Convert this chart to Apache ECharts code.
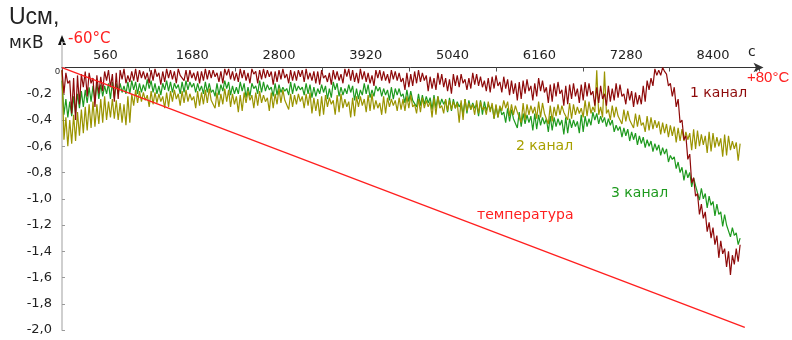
<!DOCTYPE html>
<html><head><meta charset="utf-8">
<script src="https://cdn.jsdelivr.net/npm/echarts@6/dist/echarts.min.js"></script>
<style>html,body{margin:0;padding:0;background:#fff}#c{width:792px;height:340px}</style>
</head><body><div id="c"></div>
<script>
// sampling step of the recorded channels, seconds
const SAMPLE_STEP = 25;
// x-axis tick labels (seconds)
const xLabels = [560, 1680, 2800, 3920, 5040, 6160, 7280, 8400];
// channel 1 (dark red), mV
const ch1 = [
-0.02,-0.20,-0.04,-0.12,-0.10,-0.35,-0.08,-0.40,-0.06,-0.28,-0.05,-0.15,-0.03,-0.22,-0.04,-0.12,-0.08,-0.30,-0.06,-0.20,-0.07,-0.18,-0.03,-0.10,-0.02,-0.15,-0.05,-0.26,-0.04,-0.24,-0.02,-0.09,-0.01,-0.12,-0.06,-0.11,
-0.03,-0.10,-0.01,-0.11,-0.02,-0.08,-0.03,-0.09,-0.04,-0.12,-0.02,-0.10,-0.01,-0.07,-0.04,-0.13,-0.03,-0.11,-0.01,-0.08,-0.02,-0.09,-0.03,-0.12,-0.01,-0.06,-0.05,-0.10,-0.02,-0.11,-0.02,-0.08,-0.04,-0.10,-0.03,-0.12,
-0.03,-0.10,-0.01,-0.09,-0.02,-0.08,-0.02,-0.07,-0.04,-0.11,-0.03,-0.12,-0.01,-0.06,-0.01,-0.09,-0.03,-0.10,-0.04,-0.11,-0.01,-0.08,-0.02,-0.10,-0.04,-0.12,-0.01,-0.05,-0.03,-0.12,-0.02,-0.09,-0.01,-0.08,-0.02,-0.07,-0.03,-0.13,-0.03,-0.11,-0.02,-0.09,-0.01,-0.08,-0.05,-0.12,-0.02,-0.10,-0.03,-0.10,-0.02,-0.07,
-0.02,-0.11,-0.01,-0.09,-0.04,-0.10,-0.03,-0.12,-0.03,-0.13,-0.02,-0.08,-0.06,-0.11,-0.04,-0.13,-0.02,-0.09,-0.03,-0.10,-0.05,-0.12,-0.01,-0.07,-0.01,-0.10,-0.02,-0.11,-0.04,-0.12,-0.01,-0.09,-0.03,-0.11,-0.04,-0.12,-0.06,-0.14,-0.02,-0.08,-0.02,-0.10,-0.03,-0.10,-0.05,-0.12,-0.02,-0.09,-0.03,-0.10,-0.04,-0.11,
-0.08,-0.17,-0.04,-0.15,-0.05,-0.14,-0.03,-0.12,-0.02,-0.11,-0.04,-0.10,-0.06,-0.18,-0.07,-0.16,-0.08,-0.17,-0.04,-0.13,-0.05,-0.15,-0.08,-0.18,-0.09,-0.20,-0.05,-0.14,-0.06,-0.15,-0.05,-0.12,-0.09,-0.17,-0.08,-0.16,-0.04,-0.13,-0.05,-0.14,-0.07,-0.15,-0.10,-0.18,-0.08,-0.19,-0.07,-0.16,-0.06,-0.14,-0.11,-0.19,
-0.07,-0.16,-0.09,-0.21,-0.10,-0.20,-0.12,-0.25,-0.11,-0.24,-0.10,-0.20,-0.09,-0.18,-0.14,-0.25,-0.12,-0.22,-0.08,-0.18,-0.10,-0.19,-0.15,-0.27,-0.13,-0.26,-0.12,-0.22,-0.11,-0.20,-0.17,-0.29,-0.14,-0.28,-0.13,-0.24,-0.12,-0.22,-0.16,-0.27,-0.13,-0.25,-0.11,-0.22,-0.12,-0.21,-0.18,-0.29,-0.15,-0.27,-0.14,-0.24,
-0.20,-0.29,-0.14,-0.26,-0.16,-0.25,-0.12,-0.23,-0.13,-0.22,-0.20,-0.28,-0.16,-0.25,-0.18,-0.30,-0.19,-0.28,-0.21,-0.28,-0.14,-0.26,
-0.10,-0.17,-0.08,-0.14,-0.01,-0.06,-0.02,-0.06,0.0,-0.03,-0.05,-0.14,
-0.12,-0.22,-0.15,-0.30,-0.24,-0.42,-0.40,-0.55,-0.52,-0.70,-0.66,-0.88,-0.84,-0.98,-0.96,-1.12,-1.04,-1.15,-1.10,-1.25,-1.18,-1.30,-1.22,-1.35,-1.28,-1.45,-1.32,-1.42,-1.38,-1.52,-1.40,-1.58,-1.43,-1.50,-1.38,-1.48,-1.35
];
// channel 2 (olive), mV
const ch2 = [
-0.02,-0.55,-0.38,-0.60,-0.40,-0.58,-0.36,-0.56,-0.34,-0.52,-0.32,-0.50,-0.30,-0.48,-0.28,-0.46,-0.26,-0.45,-0.28,-0.43,-0.24,-0.42,-0.22,-0.40,-0.26,-0.38,-0.24,-0.39,-0.25,-0.40,-0.27,-0.42,-0.28,-0.44,-0.22,-0.42,
-0.20,-0.29,-0.17,-0.27,-0.18,-0.26,-0.19,-0.25,-0.21,-0.30,-0.18,-0.28,-0.19,-0.27,-0.20,-0.26,-0.22,-0.31,-0.19,-0.30,-0.18,-0.26,-0.17,-0.24,-0.20,-0.29,-0.18,-0.27,-0.17,-0.26,-0.20,-0.25,-0.22,-0.31,-0.18,-0.29,
-0.19,-0.28,-0.17,-0.27,-0.16,-0.25,-0.24,-0.31,-0.19,-0.30,-0.20,-0.28,-0.16,-0.26,-0.17,-0.30,-0.20,-0.28,-0.22,-0.34,-0.21,-0.33,-0.19,-0.27,-0.18,-0.25,-0.21,-0.31,-0.19,-0.29,-0.18,-0.27,-0.21,-0.26,-0.23,-0.33,-0.19,-0.31,-0.20,-0.28,-0.16,-0.27,-0.17,-0.25,-0.24,-0.32,-0.20,-0.30,-0.21,-0.28,-0.20,-0.26,
-0.22,-0.31,-0.20,-0.29,-0.19,-0.35,-0.23,-0.33,-0.24,-0.37,-0.22,-0.36,-0.21,-0.30,-0.23,-0.28,-0.25,-0.36,-0.21,-0.34,-0.20,-0.31,-0.24,-0.30,-0.26,-0.38,-0.23,-0.37,-0.22,-0.30,-0.22,-0.29,-0.24,-0.34,-0.21,-0.33,-0.20,-0.32,-0.25,-0.31,-0.27,-0.36,-0.22,-0.35,-0.23,-0.30,-0.24,-0.29,-0.25,-0.33,-0.23,-0.32,
-0.24,-0.33,-0.22,-0.31,-0.21,-0.30,-0.28,-0.35,-0.24,-0.34,-0.23,-0.31,-0.25,-0.30,-0.26,-0.38,-0.23,-0.36,-0.22,-0.31,-0.29,-0.35,-0.24,-0.33,-0.25,-0.32,-0.26,-0.31,-0.27,-0.42,-0.25,-0.40,-0.24,-0.33,-0.27,-0.32,-0.28,-0.36,-0.25,-0.35,-0.26,-0.32,-0.30,-0.36,-0.26,-0.34,-0.27,-0.39,-0.28,-0.38,-0.29,-0.33,
-0.25,-0.31,-0.26,-0.37,-0.28,-0.36,-0.29,-0.34,-0.33,-0.42,-0.27,-0.40,-0.28,-0.36,-0.29,-0.35,-0.30,-0.39,-0.26,-0.38,-0.27,-0.35,-0.34,-0.43,-0.29,-0.41,-0.30,-0.37,-0.28,-0.36,-0.29,-0.34,-0.33,-0.40,-0.27,-0.39,-0.28,-0.36,-0.30,-0.35,-0.31,-0.38,-0.25,-0.37,-0.26,-0.35,-0.30,-0.34,-0.02,-0.36,-0.30,-0.38,
-0.03,-0.35,-0.32,-0.40,-0.29,-0.38,-0.30,-0.37,-0.36,-0.43,-0.32,-0.41,-0.33,-0.40,-0.39,-0.46,-0.35,-0.45,-0.36,-0.44,-0.42,-0.49,-0.37,-0.48,-0.38,-0.47,-0.40,-0.46,-0.41,-0.51,-0.42,-0.50,-0.43,-0.53,-0.44,-0.52,
-0.45,-0.57,-0.46,-0.56,-0.47,-0.56,-0.49,-0.55,-0.50,-0.63,-0.47,-0.62,-0.48,-0.60,-0.51,-0.59,-0.52,-0.65,-0.49,-0.64,-0.50,-0.61,-0.53,-0.60,-0.54,-0.68,-0.51,-0.67,-0.52,-0.63,-0.56,-0.62,-0.57,-0.71,-0.58
];
// channel 3 (green), mV
const ch3 = [
-0.10,-0.36,-0.24,-0.38,-0.26,-0.37,-0.22,-0.35,-0.20,-0.31,-0.18,-0.30,-0.17,-0.27,-0.15,-0.26,-0.14,-0.25,-0.12,-0.24,-0.13,-0.22,-0.14,-0.20,-0.12,-0.24,-0.11,-0.23,-0.12,-0.20,-0.12,-0.19,-0.14,-0.20,-0.11,-0.20,
-0.10,-0.17,-0.11,-0.20,-0.12,-0.19,-0.13,-0.18,-0.09,-0.16,-0.10,-0.19,-0.12,-0.20,-0.14,-0.21,-0.12,-0.17,-0.10,-0.18,-0.11,-0.19,-0.12,-0.16,-0.13,-0.20,-0.11,-0.19,-0.10,-0.17,-0.11,-0.15,-0.12,-0.19,-0.12,-0.18,
-0.14,-0.20,-0.11,-0.19,-0.12,-0.19,-0.17,-0.22,-0.12,-0.21,-0.13,-0.18,-0.10,-0.16,-0.11,-0.21,-0.14,-0.20,-0.15,-0.20,-0.11,-0.18,-0.12,-0.23,-0.15,-0.22,-0.12,-0.16,-0.14,-0.20,-0.10,-0.19,-0.11,-0.18,-0.13,-0.17,-0.15,-0.22,-0.12,-0.21,-0.13,-0.19,-0.15,-0.18,-0.16,-0.21,-0.11,-0.20,-0.12,-0.18,-0.14,-0.17,
-0.15,-0.21,-0.12,-0.20,-0.13,-0.23,-0.15,-0.22,-0.16,-0.20,-0.13,-0.19,-0.14,-0.24,-0.16,-0.23,-0.11,-0.17,-0.12,-0.22,-0.15,-0.21,-0.16,-0.20,-0.13,-0.19,-0.14,-0.25,-0.16,-0.24,-0.17,-0.21,-0.12,-0.20,-0.13,-0.23,-0.17,-0.22,-0.14,-0.18,-0.15,-0.22,-0.16,-0.21,-0.17,-0.25,-0.15,-0.24,-0.16,-0.21,-0.16,-0.22,
-0.20,-0.27,-0.17,-0.26,-0.18,-0.25,-0.24,-0.30,-0.20,-0.29,-0.21,-0.28,-0.22,-0.27,-0.23,-0.32,-0.21,-0.31,-0.22,-0.29,-0.24,-0.28,-0.25,-0.34,-0.23,-0.33,-0.24,-0.31,-0.26,-0.30,-0.27,-0.36,-0.24,-0.35,-0.25,-0.32,-0.27,-0.31,-0.28,-0.37,-0.25,-0.36,-0.26,-0.33,-0.28,-0.32,-0.29,-0.39,-0.29,-0.38,-0.30,-0.36,
-0.34,-0.42,-0.31,-0.41,-0.32,-0.39,-0.38,-0.46,-0.34,-0.45,-0.35,-0.43,-0.36,-0.42,-0.37,-0.48,-0.35,-0.47,-0.36,-0.44,-0.38,-0.43,-0.39,-0.49,-0.37,-0.48,-0.38,-0.45,-0.39,-0.44,-0.40,-0.51,-0.38,-0.50,-0.39,-0.46,-0.40,-0.45,-0.41,-0.50,-0.36,-0.49,-0.37,-0.45,-0.39,-0.44,-0.34,-0.40,-0.35,-0.43,-0.37,-0.42,
-0.38,-0.45,-0.39,-0.44,-0.40,-0.49,-0.44,-0.48,-0.45,-0.53,-0.46,-0.52,-0.47,-0.56,-0.49,-0.55,-0.50,-0.59,-0.52,-0.58,-0.53,-0.61,-0.55,-0.60,-0.56,-0.64,-0.58,-0.63,-0.59,-0.67,-0.61,-0.66,-0.62,-0.72,-0.67,-0.70,
-0.68,-0.77,-0.72,-0.80,-0.76,-0.86,-0.78,-0.84,-0.80,-0.91,-0.84,-0.90,-0.89,-1.01,-0.92,-1.00,-0.96,-1.07,-0.98,-1.05,-1.02,-1.13,-1.04,-1.12,-1.10,-1.21,-1.12,-1.20,-1.19,-1.29,-1.22,-1.28,-1.26,-1.35,-1.30
];
// temperature ramp (-60°C .. +80°C) drawn on the same scale
const tempTime = [0, 8810];
const tempVal = [0, -1.98];

const FONT = '"DejaVu Sans", Verdana, sans-serif';
const FONT2 = 'Arial, "Liberation Sans", sans-serif';
const toXY = arr => arr.map((v, i) => [i * SAMPLE_STEP, v]);

const Y_MIN = -2, Y_MAX = 0.19;
const GRID = {left: 62, right: 32.5, top: 42.6, bottom: 10};
const gridH = 340 - GRID.top - GRID.bottom;
const zeroOffset = -gridH * Y_MAX / (Y_MAX - Y_MIN);

const chart = echarts.init(document.getElementById('c'), null, {renderer: 'canvas'});
chart.setOption({
  animation: false,
  backgroundColor: '#fff',
  grid: GRID,
  xAxis: [{
    type: 'value', position: 'top', min: 0, max: 9000, interval: 560, offset: zeroOffset,
    axisLine: {onZero: false, lineStyle: {color: '#333', width: 1}, symbol: ['none', 'arrow'], symbolSize: [7, 10], symbolOffset: [0, 4]},
    axisTick: {show: false},
    splitLine: {show: false},
    axisLabel: {margin: 5, color: '#222', fontSize: 13, fontFamily: FONT,
      formatter: v => xLabels.indexOf(Math.round(v)) >= 0 ? String(Math.round(v)) : ''}
  }, {
    type: 'value', position: 'top', min: 0, max: 9000, interval: 1120, offset: zeroOffset,
    axisLine: {show: false, onZero: false},
    axisTick: {show: true, inside: true, length: 4, lineStyle: {color: '#555'}},
    axisLabel: {show: false}, splitLine: {show: false}
  }],
  yAxis: {
    type: 'value', min: Y_MIN, max: Y_MAX, interval: 0.2,
    axisLine: {onZero: false, lineStyle: {color: '#cfcfcf', width: 2}},
    axisTick: {show: true, inside: true, length: 3, lineStyle: {color: '#999'}},
    splitLine: {show: false},
    axisLabel: {margin: 2, color: '#222', fontSize: 13, fontFamily: FONT,
      formatter: v => {
        if (v > 0.001) return '';
        if (Math.abs(v) < 0.001) return '{s|0}';
        return '{n|' + v.toFixed(1).replace('.', ',') + '}';
      },
      rich: {
        s: {fontSize: 9, color: '#222', fontFamily: FONT2, padding: [8, 0, 0, 0]},
        n: {fontSize: 13, color: '#222', fontFamily: FONT, padding: [0, 8, 0, 0]}
      }
    }
  },
  series: [
    {type: 'line', name: '3 канал', data: toXY(ch3), showSymbol: false, lineStyle: {color: '#1e9a1e', width: 1.2}, z: 2},
    {type: 'line', name: '2 канал', data: toXY(ch2), showSymbol: false, lineStyle: {color: '#9a9400', width: 1.2}, z: 3},
    {type: 'line', name: '1 канал', data: toXY(ch1), showSymbol: false, lineStyle: {color: '#8e0a0a', width: 1.2}, z: 4},
    {type: 'line', name: 'температура', data: tempTime.map((t, i) => [t, tempVal[i]]), showSymbol: false,
     lineStyle: {color: '#ff1f1f', width: 1.3}, z: 5}
  ],
  graphic: [
    {type: 'text', left: 9, top: 6, style: {text: 'Uсм,', font: '23px ' + FONT2, fill: '#222'}},
    {type: 'text', left: 9, top: 35, style: {text: 'мкВ', font: '17px ' + FONT, fill: '#222'}},
    {type: 'polygon', shape: {points: [[62, 35], [58, 45], [66, 45]]}, style: {fill: '#111'}},
    {type: 'text', left: 68, top: 32, style: {text: '-60°C', font: '15px ' + FONT, fill: '#ff2020'}},
    {type: 'text', left: 747, top: 70, style: {text: '+80°C', font: '15px ' + FONT2, fill: '#ff2020'}},
    {type: 'text', left: 748, top: 45, style: {text: 'с', font: '14px ' + FONT, fill: '#222'}},
    {type: 'text', left: 690, top: 86, style: {text: '1 канал', font: '14px ' + FONT, fill: '#8e0a0a'}},
    {type: 'text', left: 516, top: 139, style: {text: '2 канал', font: '14px ' + FONT, fill: '#a8a000'}},
    {type: 'text', left: 611, top: 186, style: {text: '3 канал', font: '14px ' + FONT, fill: '#1e9a1e'}},
    {type: 'text', left: 477, top: 208, style: {text: 'температура', font: '14px ' + FONT, fill: '#ff2020'}}
  ]
});
</script>
</body></html>
